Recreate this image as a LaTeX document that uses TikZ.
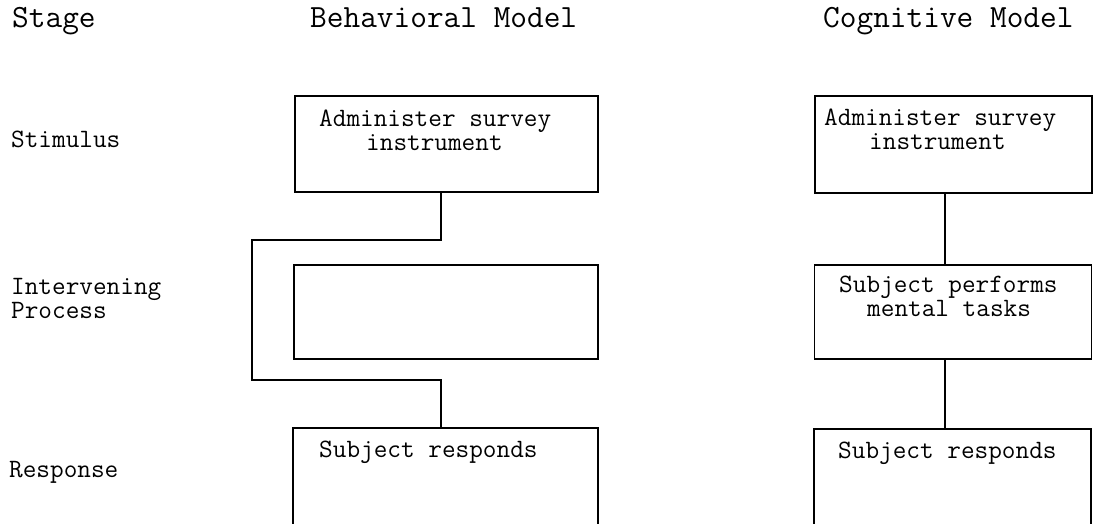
\documentclass[tikz,border=0pt]{standalone}
\usepackage{fontspec}
\begin{document}
\begin{tikzpicture}[x=1pt,y=-1pt,
  box/.style={draw=black,line width=1.3pt,minimum width=#1,inner sep=0pt,outer sep=0pt},
  lbl/.style={anchor=base west,inner sep=0pt,text height=14pt,text depth=4pt,font=\ttfamily\fontsize{26.5}{22}\selectfont},
  hdr/.style={anchor=base west,inner sep=0pt,font=\ttfamily\fontsize{32.4}{30}\selectfont},
  link/.style={draw=black,line width=1.3pt}]
\useasboundingbox (0,0) rectangle (1094,524);
\clip (0,0) rectangle (1094,524);
% headers
\node[hdr] (hStage) at (12,28) {Stage};
\node[hdr] (hBeh) at (310,28) {Behavioral Model};
\node[hdr] (hCog) at (823,28) {Cognitive Model};
% stage labels
\node[lbl] (lStim) at (11,147) {Stimulus};
\node[lbl] (lInt1) at (11,294) {Intervening};
\node[lbl] (lInt2) at (11,318) {Process};
\node[lbl] (lResp) at (9,477) {Response};
% behavioral boxes
\node[box=303pt,minimum height=96pt] (b1) at (446.5,144) {};
\node[box=304pt,minimum height=94pt] (b2) at (446,312) {};
\node[box=305pt,minimum height=120pt] (b3) at (445.5,488) {};
% cognitive boxes
\node[box=277pt,minimum height=97pt] (r1) at (953.5,144.5) {};
\node[box=277pt,minimum height=94pt] (r2) at (953,312) {};
\node[box=277pt,minimum height=120pt] (r3) at (952.5,489) {};
% box texts
\node[lbl] (t1a) at (319,126) {Administer survey};
\node[lbl] (t1b) at (366,150) {instrument};
\node[lbl] (t3a) at (319,457) {Subject responds};
\node[lbl] (u1a) at (824,125) {Administer survey};
\node[lbl] (u1b) at (869,149) {instrument};
\node[lbl] (u2a) at (839,292) {Subject performs};
\node[lbl] (u2b) at (867,316) {mental tasks};
\node[lbl] (u3a) at (838,458) {Subject responds};
% behavioral connector (bypasses the intervening process)
\coordinate (j1) at (441,240);
\coordinate (j2) at (252,240);
\coordinate (j3) at (252,380);
\coordinate (j4) at (441,380);
\draw[link] (b1.south -| j1) -- (j1) -- (j2) -- (j3) -- (j4) -- (b3.north -| j4);
% cognitive connectors
\coordinate (cx) at (945,0);
\draw[link] (r1.south -| cx) -- (r2.north -| cx);
\draw[link] (r2.south -| cx) -- (r3.north -| cx);
\end{tikzpicture}
\end{document}
